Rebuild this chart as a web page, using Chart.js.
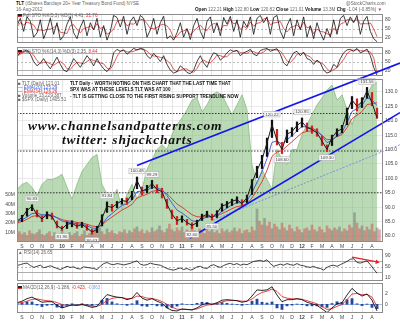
<!DOCTYPE html>
<html>
<head>
<meta charset="utf-8">
<script src="https://cdn.jsdelivr.net/npm/chart.js@4.4.1/dist/chart.umd.min.js"></script>
<style>
  body { margin: 0; width: 400px; height: 323px; overflow: hidden; position: relative; background: #fff; font-family: 'Liberation Sans', Arial, sans-serif; }
  canvas { position: absolute; left: 0; }
  .t { position: absolute; white-space: nowrap; font-size: 4.6px; line-height: 5px; color: #666; z-index: 3; }
  .t b { color: #111; }
  .r { color: #e03030; }
  .bl { color: #3355dd; }
  .lb { color: #7fa7e0; }
  .sw { display: inline-block; width: 4px; height: 2px; background: #222; border-bottom: 1px solid #e03030; margin-right: 1px; vertical-align: middle; }
  .note { position: absolute; white-space: nowrap; font-size: 4.6px; font-weight: bold; color: #111; z-index: 3; }
  .wm { position: absolute; white-space: nowrap; font-family: 'Liberation Serif', serif; font-style: italic; font-weight: bold; font-size: 13.5px; letter-spacing: 0.8px; color: #111; z-index: 3; }
</style>
</head>
<body>
<canvas id="sto5" width="400" height="29" style="top:14px"></canvas>
<canvas id="sto14" width="400" height="29" style="top:47px"></canvas>
<canvas id="rsi" width="400" height="32" style="top:249px"></canvas>
<canvas id="macd" width="400" height="38" style="top:283px"></canvas>
<canvas id="main" width="400" height="206" style="top:44px"></canvas>

<div class="t" style="left:16px;top:1px"><b>TLT</b> (iShares Barclays 20+ Year Treasury Bond Fund) NYSE</div>
<div class="t" style="left:16px;top:7px">16-Aug-2012</div>
<div class="t" style="left:346px;top:1px">@StockCharts.com</div>
<div class="t" style="left:195px;top:7px"><b>Open</b> 122.21 <b>High</b> 122.80 <b>Low</b> 120.82 <b>Close</b> 121.01 <b>Volume</b> 13.3M <b>Chg</b> -1.04 (-0.85%) <span class="r">&#9660;</span></div>

<div class="t" style="left:18px;top:13px"><i class="sw"></i>Full STO %K(5,3) %D(3) 4.41, <span class="r">21.76</span></div>
<div class="t" style="left:18px;top:49px"><i class="sw"></i>Full STO %K(14,3) %D(3) 2.35, <span class="r">8.44</span></div>

<div class="t" style="left:18px;top:81px">&#9632; TLT (Daily) 121.01</div>
<div class="t bl" style="left:18px;top:85px">&#8212; EMA(20) 125.29</div>
<div class="t r" style="left:18px;top:89px">&#8212; EMA(34) 126.26</div>
<div class="t" style="left:18px;top:93px">&#9632; Volume 13,229,387</div>
<div class="t" style="left:18px;top:97px">&#9632; $SPX (Daily) 1405.51</div>

<div class="note" style="left:70px;top:81px">TLT Daily - WORTH NOTING ON THIS CHART THAT THE LAST TIME THAT</div>
<div class="note" style="left:70px;top:87px">SPX WAS AT THESE LEVELS TLT WAS AT 100</div>
<div class="note" style="left:70px;top:94px">- TLT IS GETTING CLOSE TO THE FIRST RISING SUPPORT TRENDLINE NOW</div>

<div class="wm" style="left:28px;top:118px">www.channelsandpatterns.com</div>
<div class="wm" style="left:62px;top:132px">twitter: shjackcharts</div>

<div class="t" style="left:18px;top:249.5px">&#9650; RSI(14) 26.65</div>
<div class="t" style="left:18px;top:284.5px"><i class="sw"></i>MACD(12,26,9) -1.286, <span class="r">-0.423</span>, <span class="lb">-0.863</span></div>

<script>
// month initials under the price and MACD panels, Sep 2009 .. Aug 2012
const monthTicks = ['S','O','N','D','10','F','M','A','M','J','J','A','S','O','N','D','11','F','M','A','M','J','J','A','S','O','N','D','12','F','M','A','M','J','J','A'];

// TLT, twice a month from mid Aug 2009
const closes = [85.2, 86.4, 88.9, 90.3, 87.4, 85.9, 87.6, 86.8, 83.6, 82.5, 84.1, 84.4, 83.4, 84.0, 82.8, 81.4, 82.3, 86.2, 90.4, 89.9,
  91.2, 92.3, 92.0, 94.5, 99.3, 95.6, 96.4, 98.2, 96.2, 95.4, 91.0, 87.6, 85.3, 86.1, 84.7, 83.7, 84.6, 86.7, 87.6, 86.4,
  88.0, 90.4, 91.0, 92.1, 92.6, 91.3, 93.3, 98.5, 102.8, 106.5, 112.3, 118.6, 113.2, 110.0, 115.4, 116.2, 118.4, 119.6, 117.6, 117.0,
  115.8, 112.9, 110.1, 114.2, 116.3, 117.2, 123.1, 127.2, 125.0, 126.6, 130.4, 126.2, 121.01];
const highs = [86.0, 87.2, 89.6, 90.83, 89.0, 87.0, 88.4, 88.0, 85.2, 83.4, 84.9, 85.3, 84.6, 84.8, 83.9, 82.4, 83.4, 87.4, 91.84, 91.0,
  92.0, 93.0, 93.2, 95.5, 100.48, 97.0, 97.6, 99.29, 97.8, 96.6, 92.8, 89.0, 86.8, 87.0, 85.8, 84.6, 85.5, 87.6, 88.6, 87.6,
  88.8, 91.2, 92.0, 92.8, 93.6, 92.6, 94.2, 99.6, 104.2, 108.0, 114.0, 120.22, 117.0, 112.5, 116.8, 117.6, 119.6, 120.95, 119.2, 118.2,
  117.2, 114.6, 111.6, 115.0, 117.2, 118.4, 124.4, 128.4, 127.6, 128.0, 131.56, 129.8, 124.4];
const lows = [84.3, 85.0, 86.9, 88.8, 86.6, 85.0, 86.0, 85.8, 82.8, 81.96, 82.6, 83.2, 82.7, 83.0, 82.0, 80.63, 81.2, 83.5, 88.2, 88.6,
  89.8, 91.0, 91.0, 92.6, 96.4, 94.2, 95.0, 96.5, 95.0, 93.2, 89.6, 86.0, 84.0, 84.8, 83.8, 82.60, 83.3, 85.4, 86.5, 85.5,
  86.4, 88.6, 89.8, 90.6, 91.4, 90.4, 91.6, 94.4, 100.2, 103.4, 107.6, 114.2, 111.6, 108.60, 112.4, 114.6, 116.2, 117.8, 116.4, 115.6,
  114.6, 111.4, 109.30, 111.4, 114.6, 115.8, 118.6, 124.2, 123.4, 124.6, 127.8, 125.2, 120.82];
const ema20 = [85.0, 85.6, 86.6, 87.8, 87.9, 87.4, 87.4, 87.3, 86.3, 85.2, 84.8, 84.6, 84.2, 84.1, 83.6, 82.8, 82.6, 83.9, 86.4, 87.8,
  89.3, 90.6, 91.2, 92.4, 95.4, 95.6, 95.9, 96.9, 96.7, 96.1, 94.0, 91.4, 89.0, 88.0, 86.7, 85.3, 85.0, 85.8, 86.7, 86.6,
  87.2, 88.6, 89.7, 90.8, 91.6, 91.5, 92.3, 95.0, 98.7, 102.3, 106.9, 112.5, 113.0, 111.8, 113.4, 114.8, 116.5, 118.0, 117.8, 117.4,
  116.6, 114.7, 112.4, 113.2, 114.8, 116.0, 119.4, 123.2, 124.2, 125.4, 128.0, 127.2, 125.29];
const ema34 = [84.6, 85.0, 85.8, 86.8, 87.1, 86.9, 87.0, 87.0, 86.4, 85.7, 85.3, 85.1, 84.7, 84.5, 84.1, 83.5, 83.2, 83.8, 85.4, 86.6,
  87.8, 89.0, 89.9, 91.0, 93.2, 93.9, 94.5, 95.5, 95.8, 95.7, 94.6, 92.9, 91.1, 90.0, 88.7, 87.4, 86.7, 86.6, 86.8, 86.7,
  87.0, 87.8, 88.6, 89.5, 90.2, 90.5, 91.3, 93.2, 95.9, 98.9, 102.8, 107.6, 109.2, 109.6, 111.3, 112.7, 114.3, 115.8, 116.3, 116.5,
  116.2, 115.0, 113.4, 113.6, 114.5, 115.2, 117.6, 120.7, 121.9, 123.2, 125.6, 125.9, 126.26];
// S&P 500 overlay, same dates
const spx = [1050, 1067, 1074, 1057, 1029, 1067, 1084, 1084, 1091, 1102, 1057, 1016, 1067, 1112, 1136, 1160, 1171, 1067, 1033, 1016,
  1050, 980, 1033, 1067, 1016, 1050, 1119, 1153, 1188, 1205, 1188, 1240, 1274, 1298, 1326, 1360, 1367, 1319, 1343, 1378,
  1388, 1378, 1343, 1309, 1343, 1378, 1326, 1136, 1067, 1119, 1084, 1050, 1188, 1153, 1136, 1188, 1188, 1240, 1274, 1309,
  1343, 1367, 1395, 1412, 1360, 1378, 1326, 1274, 1326, 1360, 1378, 1412, 1422];
// MACD(12,26,9), same dates
const macdLine = [0.3, 0.6, 1.1, 1.4, 0.9, 0.4, 0.5, 0.5, -0.2, -0.7, -0.4, -0.1, -0.2, 0.0, -0.3, -0.6, -0.4, 0.8, 1.9, 1.6,
  1.4, 1.3, 0.9, 1.2, 2.3, 1.2, 0.8, 1.1, 0.6, 0.2, -0.7, -1.2, -1.3, -0.9, -1.0, -1.1, -0.7, -0.1, 0.2, 0.0,
  0.3, 0.8, 0.9, 0.8, 0.7, 0.4, 0.6, 1.6, 2.8, 2.7, 2.8, 3.4, 1.8, 0.5, 0.9, 0.9, 1.1, 0.9, 0.4, 0.1,
  -0.2, -0.9, -1.6, -0.7, 0.1, 0.3, 1.8, 3.1, 2.2, 1.6, 2.0, 0.8, -1.286];
const macdSignal = [0.2, 0.35, 0.6, 0.95, 1.05, 0.85, 0.7, 0.6, 0.35, -0.05, -0.25, -0.2, -0.2, -0.1, -0.15, -0.35, -0.4, 0.0, 0.75, 1.15,
  1.3, 1.3, 1.1, 1.1, 1.6, 1.5, 1.2, 1.15, 0.9, 0.55, 0.0, -0.55, -0.95, -1.0, -1.0, -1.05, -0.9, -0.5, -0.15, -0.05,
  0.1, 0.45, 0.7, 0.75, 0.72, 0.6, 0.6, 1.0, 1.8, 2.3, 2.55, 2.95, 2.5, 1.5, 1.2, 1.05, 1.05, 0.98, 0.7, 0.4,
  0.1, -0.4, -1.0, -0.85, -0.4, -0.05, 0.9, 2.0, 2.1, 1.85, 1.95, 1.4, -0.423];
const macdHist = [0.1, 0.25, 0.5, 0.45, -0.15, -0.45, -0.2, -0.1, -0.55, -0.65, -0.15, 0.1, 0.0, 0.1, -0.15, -0.25, 0.0, 0.8, 1.15, 0.45,
  0.1, 0.0, -0.2, 0.1, 0.7, -0.3, -0.4, -0.05, -0.3, -0.35, -0.7, -0.65, -0.35, 0.1, 0.0, -0.05, 0.2, 0.4, 0.35, 0.05,
  0.2, 0.35, 0.2, 0.05, -0.02, -0.2, 0.0, 0.6, 1.0, 0.4, 0.25, 0.45, -0.7, -1.0, -0.3, -0.15, 0.05, -0.08, -0.3, -0.3,
  -0.3, -0.5, -0.6, 0.15, 0.5, 0.35, 0.9, 1.1, 0.1, -0.25, 0.05, -0.6, -0.863];

// volume in millions, four per month
const volume = [9, 11, 8, 10, 7, 12, 9, 8, 10, 13, 8, 7, 9, 11, 6, 10, 8, 7, 12, 9,
  8, 10, 7, 9, 11, 6, 8, 12, 7, 9, 10, 13, 9, 15, 11, 8, 14, 10, 12, 9, 8, 11, 10, 13,
  9, 12, 10, 14, 16, 11, 13, 9, 12, 10, 15, 11, 13, 17, 12, 10, 14, 19, 13, 11, 15, 12, 16, 10,
  13, 11, 17, 12, 10, 14, 12, 9, 15, 11, 13, 10, 12, 9, 14, 11, 13, 10, 12, 15, 11, 14, 9, 12,
  13, 10, 16, 12, 35, 22, 18, 25, 17, 21, 14, 19, 16, 13, 20, 15, 12, 18, 14, 11, 16, 13, 10, 14,
  15, 12, 18, 13, 11, 16, 13, 10, 17, 14, 12, 15, 13, 16, 11, 14, 12, 18, 15, 31, 20, 14, 17, 12, 16, 13, 19, 11, 15, 13];

// oscillators, three per month
const stoK5 = [60, 85, 40, 90, 75, 20, 35, 80, 15, 45, 85, 30, 70, 10, 25, 65, 90, 35, 15, 55, 80, 25, 70, 45,
  85, 20, 60, 10, 40, 95, 88, 55, 92, 30, 75, 90, 60, 95, 85, 20, 45, 85, 30, 70, 92, 15, 25, 10,
  35, 70, 20, 50, 12, 60, 85, 40, 15, 75, 90, 35, 70, 25, 88, 65, 92, 40, 80, 20, 75, 55, 90, 30,
  85, 95, 70, 90, 30, 88, 95, 40, 15, 60, 85, 25, 80, 45, 90, 20, 60, 15, 70, 35, 10, 50, 20, 80,
  30, 85, 95, 60, 90, 70, 95, 30, 75, 92, 40, 15, 4.41];
const stoD5 = [55, 70, 62, 72, 68, 62, 43, 45, 43, 47, 48, 53, 62, 37, 35, 33, 60, 63, 47, 35, 50, 53, 58, 47,
  67, 50, 55, 30, 37, 48, 74, 79, 78, 59, 66, 65, 75, 82, 80, 67, 50, 50, 53, 62, 64, 59, 44, 17,
  23, 38, 42, 47, 27, 41, 52, 62, 47, 43, 60, 67, 65, 43, 61, 59, 82, 66, 71, 47, 58, 50, 73, 58,
  68, 70, 83, 85, 63, 69, 71, 74, 50, 38, 53, 57, 63, 50, 72, 52, 57, 32, 48, 40, 38, 32, 27, 50,
  43, 65, 70, 80, 82, 73, 85, 65, 67, 66, 69, 49, 21.76];
const stoK14 = [70, 80, 85, 90, 75, 50, 35, 45, 60, 40, 25, 45, 65, 40, 20, 15, 35, 60, 45, 30, 50, 70, 55, 35,
  60, 40, 25, 15, 30, 80, 92, 85, 90, 75, 85, 95, 90, 95, 92, 70, 60, 78, 65, 50, 70, 40, 20, 10,
  15, 35, 25, 12, 8, 20, 50, 70, 45, 30, 60, 80, 75, 55, 65, 80, 90, 85, 88, 70, 80, 85, 92, 75,
  70, 88, 92, 95, 85, 90, 94, 75, 45, 35, 60, 80, 85, 70, 82, 60, 55, 40, 55, 45, 20, 10, 15, 40,
  30, 60, 80, 90, 92, 85, 95, 80, 85, 93, 70, 30, 2.35];
const stoD14 = [68, 75, 82, 85, 83, 72, 53, 43, 47, 48, 42, 37, 45, 50, 42, 25, 23, 37, 47, 45, 42, 50, 58, 53,
  50, 45, 42, 27, 23, 42, 67, 86, 89, 83, 83, 85, 90, 93, 92, 86, 74, 69, 68, 64, 62, 53, 43, 23,
  15, 20, 25, 24, 15, 13, 26, 47, 55, 48, 45, 57, 72, 70, 65, 67, 78, 85, 88, 81, 79, 78, 86, 84,
  79, 78, 83, 92, 91, 90, 90, 86, 71, 52, 47, 58, 75, 78, 79, 71, 66, 52, 50, 47, 40, 25, 15, 22,
  28, 43, 57, 77, 87, 89, 91, 87, 87, 86, 83, 64, 8.44];
const rsi14 = [55, 58, 62, 64, 55, 48, 52, 56, 47, 50, 54, 49, 44, 40, 46, 52, 48, 50, 44, 42, 50, 48, 46, 44,
  40, 52, 62, 66, 60, 58, 62, 60, 57, 60, 63, 68, 72, 60, 56, 58, 64, 60, 58, 56, 50, 44, 40, 38,
  42, 46, 40, 44, 38, 42, 50, 52, 46, 44, 54, 58, 52, 48, 55, 60, 63, 58, 62, 56, 60, 58, 64, 70,
  72, 74, 70, 76, 62, 52, 56, 60, 56, 62, 58, 56, 62, 56, 54, 50, 48, 52, 46, 44, 38, 48, 54, 56,
  52, 58, 64, 70, 78, 80, 66, 64, 68, 72, 58, 42, 26.65];

// annotated swing points (indexes into highs / lows)
const swingHighs = [3, 18, 24, 27, 51, 57, 70];
const swingLows = [9, 15, 35, 39, 53, 62];

// hand drawn lines: [month, price]
const supportLevels = [122.5, 109.5, 95];
const upperChannel = [[11.5, 104.5], [37.8, 140.0]];
const lowerChannel = [[16.8, 79.3], [37.8, 122.8]];
const innerTrend = [[19.1, 85.5], [37.8, 111.7]];
const rsiArrow = [[33.0, 86], [35.5, 68]];

const xHalf = i => -0.5 + i * 0.5;
const xThird = i => -0.5 + i / 3;
const xQuarter = i => -0.5 + i * 0.25;
const pts = (arr, fx) => arr.map((v, i) => ({ x: fx(i), y: v }));
const pairs = arr => arr.map(p => ({ x: p[0], y: p[1] }));

const FONT = 'Liberation Sans';

function monthAxis(showLabels) {
  return {
    type: 'linear', min: -0.5, max: 36.1, offset: false,
    afterBuildTicks: s => { s.ticks = monthTicks.map((_, i) => ({ value: i })); },
    afterFit: s => { s.height = showLabels ? 8 : 0; s.paddingLeft = 0; s.paddingRight = 0; },
    grid: { color: '#dadada', lineWidth: 0.7, drawTicks: false, offset: false },
    border: { display: false },
    ticks: {
      display: showLabels, padding: 1.5, autoSkip: false, maxRotation: 0, color: '#444',
      font: c => ({ family: FONT, size: 5, weight: /\d/.test(monthTicks[c.index] || '') ? 'bold' : 'normal' }),
      callback: (v, i) => monthTicks[i]
    }
  };
}

function sideAxis(pos, min, max, values, fmt, grid) {
  return {
    position: pos, min, max,
    afterBuildTicks: s => { s.ticks = values.map(v => ({ value: v })); },
    afterFit: s => { s.width = 17; s.paddingTop = 0; s.paddingBottom = 0; },
    grid: Object.assign({ display: false, drawTicks: false }, grid || {}),
    border: { display: false },
    ticks: { color: '#444', padding: 2, font: { family: FONT, size: 5 }, callback: fmt || (v => v) }
  };
}

// panel frame plus horizontal reference lines
const panelDecor = {
  id: 'panelDecor',
  beforeDatasetsDraw(chart, args, opts) {
    const { ctx, chartArea: a } = chart;
    const ys = chart.scales[opts.axis];
    (opts.lines || []).forEach(l => {
      const y = Math.round(ys.getPixelForValue(l.value)) + 0.5;
      ctx.save();
      ctx.strokeStyle = l.color; ctx.lineWidth = l.width || 0.8; ctx.setLineDash(l.dash || []);
      ctx.beginPath(); ctx.moveTo(a.left, y); ctx.lineTo(a.right, y); ctx.stroke();
      ctx.restore();
    });
  },
  afterDraw(chart) {
    const { ctx, chartArea: a } = chart;
    ctx.save();
    ctx.strokeStyle = '#8c8c8c'; ctx.lineWidth = 1;
    ctx.strokeRect(Math.round(a.left) + 0.5, Math.round(a.top) + 0.5, Math.round(a.width) - 1, Math.round(a.height) - 1);
    ctx.restore();
  }
};

// little value boxes at the swing highs and lows
const swingTags = {
  id: 'swingTags',
  afterDatasetsDraw(chart) {
    const { ctx } = chart, xs = chart.scales.x, ys = chart.scales.price;
    ctx.save();
    ctx.font = '4.3px ' + FONT; ctx.textAlign = 'center'; ctx.textBaseline = 'middle';
    const tag = (i, v, dy) => {
      const x = xs.getPixelForValue(xHalf(i)), y = ys.getPixelForValue(v) + dy;
      const s = v.toFixed(2), w = ctx.measureText(s).width + 3;
      ctx.fillStyle = '#f6f6f6'; ctx.strokeStyle = '#aaa'; ctx.lineWidth = 0.5;
      ctx.fillRect(x - w / 2, y - 2.8, w, 5.6); ctx.strokeRect(x - w / 2, y - 2.8, w, 5.6);
      ctx.fillStyle = '#444'; ctx.fillText(s, x, y + 0.3);
    };
    swingHighs.forEach(i => tag(i, highs[i], -6));
    swingLows.forEach(i => tag(i, lows[i], 6));
    ctx.restore();
  }
};

const base = (padLeft, padTop) => ({
  responsive: false, animation: false, events: [],
  layout: { padding: { left: padLeft, right: 0, top: padTop, bottom: 0 }, autoPadding: false },
  elements: { point: { radius: 0 }, line: { tension: 0 } }
});

function stoChart(id, k, d) {
  new Chart(document.getElementById(id), {
    type: 'line',
    data: {
      datasets: [
        { data: pts(k, xThird), borderColor: '#111', borderWidth: 0.8 },
        { data: pts(d, xThird), borderColor: '#e03030', borderWidth: 0.8 }
      ]
    },
    options: Object.assign(base(17, 0), {
      scales: { x: monthAxis(false), y: sideAxis('right', 0, 100, [20, 50, 80]) },
      plugins: {
        legend: { display: false }, tooltip: { enabled: false },
        panelDecor: { axis: 'y', lines: [
          { value: 80, color: '#9a9a9a' }, { value: 20, color: '#9a9a9a' }, { value: 50, color: '#aaa', dash: [2, 2] }
        ] }
      }
    }),
    plugins: [panelDecor]
  });
}

stoChart('sto5', stoK5, stoD5);
stoChart('sto14', stoK14, stoD14);

// price panel
const candleColors = closes.map((c, i) => (i > 0 && c < closes[i - 1]) ? '#d42020' : '#111');
const volColors = volume.map((v, i) => i % 3 === 0 ? 'rgba(120,120,120,0.55)' : 'rgba(205,90,90,0.55)');
const priceTicks = [];
for (let v = 80; v <= 132.5; v += 2.5) priceTicks.push(v);

new Chart(document.getElementById('main'), {
  type: 'bar',
  data: {
    datasets: [
      { type: 'line', label: '$SPX', yAxisID: 'spx', data: pts(spx, xHalf), fill: 'start',
        backgroundColor: 'rgba(128,188,118,0.55)', borderColor: '#86bc7f', borderWidth: 0.8, order: 10 },
      { type: 'bar', label: 'Volume', yAxisID: 'vol', data: pts(volume, xQuarter), backgroundColor: volColors,
        barThickness: 2, grouped: false, order: 9 },
      ...supportLevels.map(v => ({ type: 'line', yAxisID: 'price', data: [{ x: -0.5, y: v }, { x: 36.1, y: v }],
        borderColor: '#222', borderWidth: 0.9, borderDash: [1.5, 1.5], order: 8 })),
      { type: 'line', label: 'EMA(34)', yAxisID: 'price', data: pts(ema34, xHalf), borderColor: '#e03030', borderWidth: 0.9, order: 6 },
      { type: 'line', label: 'EMA(20)', yAxisID: 'price', data: pts(ema20, xHalf), borderColor: '#3355dd', borderWidth: 0.9, order: 5 },
      { type: 'bar', label: 'range', yAxisID: 'price', data: highs.map((h, i) => ({ x: xHalf(i), y: [lows[i], h] })),
        backgroundColor: candleColors, barThickness: 1.6, grouped: false, order: 4 },
      { type: 'line', label: 'TLT', yAxisID: 'price', data: pts(closes, xHalf), borderColor: '#1a1a1a', borderWidth: 1, order: 3 },
      { type: 'line', yAxisID: 'price', data: pairs(innerTrend), borderColor: '#6a7fe6', borderWidth: 0.8,
        borderDash: [2, 1.5], clip: false, order: 2 },
      { type: 'line', yAxisID: 'price', data: pairs(upperChannel), borderColor: '#1414ee', borderWidth: 1.6, clip: false, order: 1 },
      { type: 'line', yAxisID: 'price', data: pairs(lowerChannel), borderColor: '#1414ee', borderWidth: 1.6, clip: false, order: 1 }
    ]
  },
  options: Object.assign(base(0, 35), {
    scales: {
      x: monthAxis(true),
      price: sideAxis('right', 77.93, 134.48, priceTicks, v => v.toFixed(1),
        { display: true, color: '#e3e3e3', lineWidth: 0.7 }),
      vol: sideAxis('left', 0, 172.6, [10, 20, 30, 40, 50], v => v + 'M'),
      spx: { display: false, min: 867, max: 1433 }
    },
    plugins: { legend: { display: false }, tooltip: { enabled: false }, panelDecor: { axis: 'price', lines: [] } }
  }),
  plugins: [panelDecor, swingTags]
});

// RSI panel
new Chart(document.getElementById('rsi'), {
  type: 'line',
  data: {
    datasets: [
      { data: pts(rsi14, xThird), borderColor: '#111', borderWidth: 0.8 },
      { data: pairs(rsiArrow), borderColor: '#e82020', borderWidth: 1.3, clip: false,
        pointRadius: [0, 2.6], pointStyle: 'triangle', rotation: 101, pointBackgroundColor: '#e82020', pointBorderWidth: 0 }
    ]
  },
  options: Object.assign(base(17, 0), {
    scales: { x: monthAxis(false), y: sideAxis('right', -2.2, 115.8, [10, 30, 50, 70, 90]) },
    plugins: {
      legend: { display: false }, tooltip: { enabled: false },
      panelDecor: { axis: 'y', lines: [
        { value: 70, color: '#999' }, { value: 30, color: '#999' }, { value: 50, color: '#aaa', dash: [2, 2] }
      ] }
    }
  }),
  plugins: [panelDecor]
});

// MACD panel
new Chart(document.getElementById('macd'), {
  type: 'bar',
  data: {
    datasets: [
      { type: 'bar', data: pts(macdHist, xHalf), backgroundColor: '#24489e', barThickness: 2.2, grouped: false, order: 3 },
      { type: 'line', data: pts(macdSignal, xHalf), borderColor: '#e03030', borderWidth: 0.9, order: 2 },
      { type: 'line', data: pts(macdLine, xHalf), borderColor: '#111', borderWidth: 0.9, order: 1 }
    ]
  },
  options: Object.assign(base(17, 0), {
    scales: { x: monthAxis(true), y: sideAxis('right', -1.69, 4.14, [0, 2]) },
    plugins: {
      legend: { display: false }, tooltip: { enabled: false },
      panelDecor: { axis: 'y', lines: [{ value: 0, color: '#8fb0e0' }] }
    }
  }),
  plugins: [panelDecor]
});
</script>
</body>
</html>
